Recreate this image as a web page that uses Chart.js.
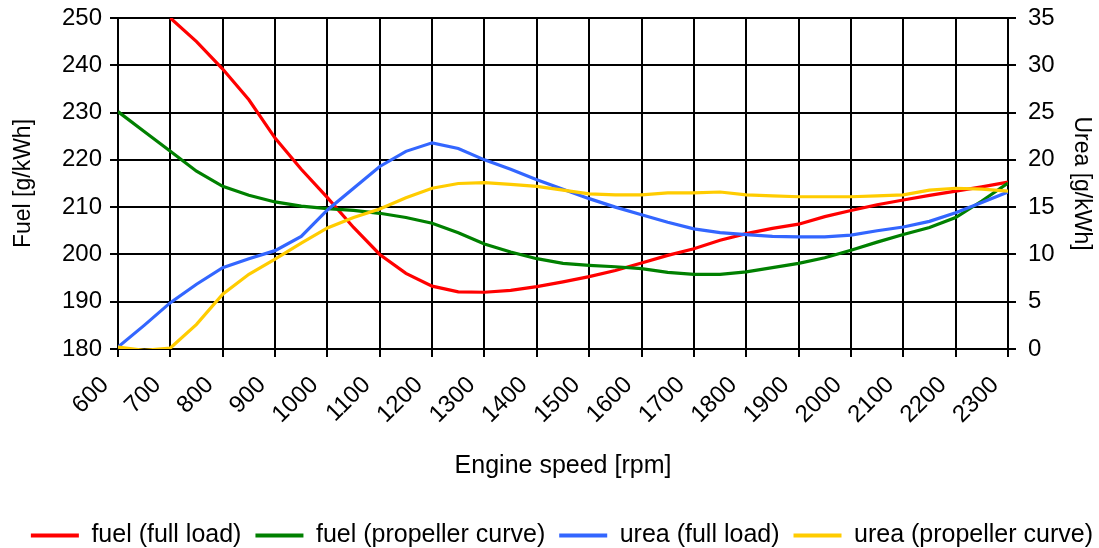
<!DOCTYPE html>
<html lang="en">
<head>
  <meta charset="UTF-8" />
  <title>Fuel and urea consumption vs engine speed</title>
  <script src="https://cdn.jsdelivr.net/npm/chart.js"></script>
  <style>
    html, body {
      margin: 0;
      padding: 0;
      background: #fff;
    }
    .chart-container {
      width: 1099px;
      height: 548px;
    }
  </style>
</head>
<body>
  <div class="chart-container">
    <canvas id="chart"></canvas>
  </div>

  <script>
    // engine speed [rpm]
    const rpm = [600, 650, 700, 750, 800, 850, 900, 950, 1000, 1050, 1100, 1150,
                 1200, 1250, 1300, 1350, 1400, 1450, 1500, 1550, 1600, 1650, 1700,
                 1750, 1800, 1850, 1900, 1950, 2000, 2050, 2100, 2150, 2200, 2250, 2300];

    // fuel [g/kWh]
    const fuelFullLoad = [null, null, 250, 245, 239.2, 232.7, 224.6, 218, 212, 205.7, 200, 196,
                          193.3, 192.1, 192, 192.4, 193.2, 194.2, 195.3, 196.6, 198.2, 199.8, 201.2,
                          203, 204.4, 205.5, 206.4, 208, 209.3, 210.5, 211.5, 212.5, 213.4, 214.3, 215.3];
    const fuelPropeller = [230.2, 226, 221.8, 217.6, 214.4, 212.5, 211.1, 210.2, 209.7, 209.3, 208.7, 207.8,
                           206.6, 204.6, 202.2, 200.5, 199.1, 198.1, 197.7, 197.4, 197, 196.2, 195.8,
                           195.8, 196.3, 197.2, 198.1, 199.3, 200.9, 202.6, 204.2, 205.7, 207.8, 211.3, 215.1];

    // urea [g/kWh]
    const ureaFullLoad = [0.2, 2.5, 4.9, 6.85, 8.6, 9.55, 10.4, 11.9, 14.7, 17, 19.3, 20.9,
                          21.8, 21.2, 20, 19, 17.9, 16.9, 15.9, 15, 14.2, 13.4, 12.7,
                          12.3, 12.1, 11.9, 11.85, 11.85, 12.05, 12.5, 12.9, 13.5, 14.4, 15.5, 16.6];
    const ureaPropeller = [0.2, -0.15, 0.1, 2.6, 5.8, 7.9, 9.5, 11.2, 12.8, 13.9, 14.8, 16,
                           17, 17.5, 17.6, 17.4, 17.2, 16.8, 16.4, 16.3, 16.3, 16.5, 16.5,
                           16.6, 16.3, 16.2, 16.1, 16.1, 16.1, 16.2, 16.3, 16.8, 17, 16.9, 16.7];

    const FONT = "'Liberation Sans', Arial, sans-serif";

    function toPoints(values) {
      return rpm.map((x, i) => ({ x: x, y: values[i] })).filter(p => p.y !== null);
    }

    function lineSet(label, values, color, axis, order) {
      return {
        label: label,
        data: toPoints(values),
        yAxisID: axis,
        borderColor: color,
        backgroundColor: color,
        borderWidth: 3.2,
        pointRadius: 0,
        tension: 0,
        order: order
      };
    }

    // fixed axis widths so the plot area lines up with the original
    function fixWidth(w) {
      return (scale) => {
        scale.width = w;
        scale.paddingTop = 0;
        scale.paddingBottom = 0;
      };
    }

    new Chart(document.getElementById("chart"), {
      type: "line",
      data: {
        datasets: [
          lineSet("fuel (full load)", fuelFullLoad, "#ff0000", "y", 3),
          lineSet("fuel (propeller curve)", fuelPropeller, "#008000", "y", 2),
          lineSet("urea (full load)", ureaFullLoad, "#3366ff", "y1", 1),
          lineSet("urea (propeller curve)", ureaPropeller, "#ffcc00", "y1", 0)
        ]
      },
      options: {
        responsive: true,
        maintainAspectRatio: false,
        animation: false,
        layout: {
          padding: { top: 18, left: 0, right: -8, bottom: -10 }
        },
        plugins: {
          tooltip: { enabled: false },
          legend: {
            position: "bottom",
            align: "end",
            labels: {
              font: { family: FONT, size: 25 },
              color: "#000",
              boxWidth: 48,
              boxHeight: 4,
              padding: 14,
              sort: (a, b) => a.datasetIndex - b.datasetIndex,
              generateLabels: (chart) =>
                Chart.defaults.plugins.legend.labels.generateLabels(chart).map(l => {
                  l.fillStyle = l.strokeStyle;
                  l.lineWidth = 0;
                  return l;
                })
            }
          }
        },
        scales: {
          x: {
            type: "linear",
            min: 600,
            max: 2300,
            afterFit: (scale) => { scale.height = 160; },
            ticks: {
              stepSize: 100,
              minRotation: 45,
              maxRotation: 45,
              padding: 14,
              labelOffset: -13,
              color: "#000",
              font: { family: FONT, size: 24 },
              callback: (v) => String(v)
            },
            grid: { color: "#000", lineWidth: 2, tickLength: 8 },
            border: { color: "#000", width: 2 },
            title: {
              display: true,
              text: "Engine speed [rpm]",
              color: "#000",
              font: { family: FONT, size: 25 },
              padding: { top: 0, bottom: 28 }
            }
          },
          y: {
            position: "left",
            min: 180,
            max: 250,
            afterFit: fixWidth(118),
            ticks: {
              stepSize: 10,
              padding: 8,
              color: "#000",
              font: { family: FONT, size: 24 }
            },
            grid: { color: "#000", lineWidth: 2, tickLength: 8 },
            border: { color: "#000", width: 2 },
            title: {
              display: true,
              text: "Fuel [g/kWh]",
              color: "#000",
              font: { family: FONT, size: 23 },
              padding: { top: 10, bottom: 0 }
            }
          },
          y1: {
            position: "right",
            min: 0,
            max: 35,
            afterFit: fixWidth(99),
            ticks: {
              stepSize: 5,
              padding: 12,
              color: "#000",
              font: { family: FONT, size: 24 }
            },
            grid: { drawOnChartArea: false, color: "#000", lineWidth: 2, tickLength: 8 },
            border: { color: "#000", width: 2 },
            title: {
              display: true,
              text: "Urea [g/kWh]",
              color: "#000",
              font: { family: FONT, size: 23 },
              padding: { top: 12, bottom: 0 }
            }
          }
        }
      }
    });
  </script>
</body>
</html>
